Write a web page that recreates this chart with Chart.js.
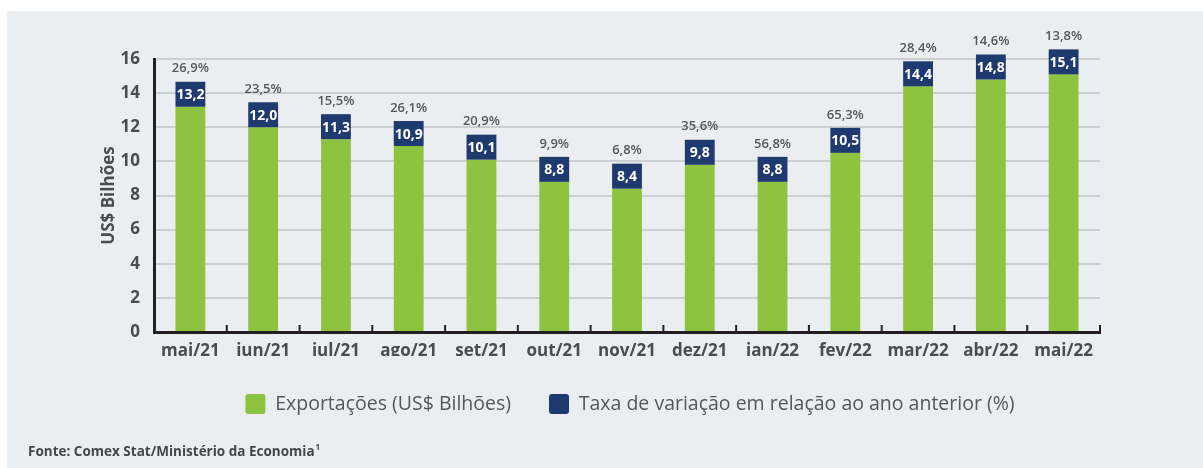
<!DOCTYPE html>
<html>
<head>
<meta charset="utf-8">
<script src="https://cdn.jsdelivr.net/npm/chart.js@4"></script>
<style>
  html, body { margin: 0; padding: 0; background: #ffffff; }
  #wrap { width: 1203px; height: 468px; }
</style>
</head>
<body>
<div id="wrap"><canvas id="exportChart"></canvas></div>
<script>
// Dados
const meses = ["mai/21", "jun/21", "jul/21", "ago/21", "set/21", "out/21", "nov/21", "dez/21", "jan/22", "fev/22", "mar/22", "abr/22", "mai/22"];
const exportacoes = [13.2, 12.0, 11.3, 10.9, 10.1, 8.8, 8.4, 9.8, 8.8, 10.5, 14.4, 14.8, 15.1];
const taxaVariacao = [26.9, 23.5, 15.5, 26.1, 20.9, 9.9, 6.8, 35.6, 56.8, 65.3, 28.4, 14.6, 13.8];
const yTicks = [0, 2, 4, 6, 8, 10, 12, 14, 16];

const verde = "#8dc33f";
const azul = "#1f3a6f";
const cinzaTexto = "#555759";
const fonte = "'Open Sans', 'DejaVu Sans', sans-serif";

const fmt = (v) => v.toFixed(1).replace(".", ",");

// fundo cinza + rodapé
const fundo = {
  id: "fundo",
  beforeDraw(chart) {
    const ctx = chart.ctx;
    ctx.save();
    ctx.fillStyle = "#ffffff";
    ctx.fillRect(0, 0, chart.width, chart.height);
    ctx.fillStyle = "#ebeef0";
    ctx.fillRect(7, 11, chart.width - 7, chart.height - 11);
    ctx.restore();
  },
  afterLayout(chart) {
    // centraliza a legenda como no original
    chart.legend.left += 80;
    chart.legend.right += 80;
  },
  afterDraw(chart) {
    const ctx = chart.ctx;
    ctx.save();
    ctx.fillStyle = "#444648";
    ctx.font = "700 13.5px " + fonte;
    ctx.textBaseline = "middle";
    ctx.fillText("Fonte: Comex Stat/Ministério da Economia", 28, 452);
    const w = ctx.measureText("Fonte: Comex Stat/Ministério da Economia").width;
    ctx.font = "700 8px " + fonte;
    ctx.fillText("1", 28 + w + 1, 448);
    ctx.restore();
  }
};

// caixas azuis com valor + taxa em %
const rotulos = {
  id: "rotulos",
  afterDatasetsDraw(chart) {
    const ctx = chart.ctx;
    const meta = chart.getDatasetMeta(0);
    const xs = chart.scales.x;
    const bottom = chart.chartArea.bottom;
    ctx.save();

    // marcas do eixo x (para cima)
    const meio = (xs.getPixelForValue(1) - xs.getPixelForValue(0)) / 2;
    ctx.strokeStyle = "#231f20";
    ctx.lineWidth = 2;
    for (let i = 0; i < meses.length; i++) {
      const bx = xs.getPixelForValue(i) + meio;
      ctx.beginPath();
      ctx.moveTo(bx, bottom);
      ctx.lineTo(bx, bottom - 7);
      ctx.stroke();
    }

    meta.data.forEach((bar, i) => {
      const w = bar.width;
      const h = 25;
      ctx.fillStyle = azul;
      ctx.fillRect(bar.x - w / 2, bar.y - h, w, h);
      ctx.fillStyle = "#ffffff";
      ctx.font = "700 14px " + fonte;
      ctx.textAlign = "center";
      ctx.textBaseline = "middle";
      ctx.fillText(fmt(exportacoes[i]), bar.x, bar.y - h / 2 + 1);
      ctx.fillStyle = cinzaTexto;
      ctx.font = "600 13px " + fonte;
      ctx.fillText(fmt(taxaVariacao[i]) + "%", bar.x, bar.y - h - 13);
    });
    ctx.restore();
  }
};

const ctx = document.getElementById("exportChart").getContext("2d");

new Chart(ctx, {
  type: "bar",
  data: {
    labels: meses,
    datasets: [
      {
        label: "Exportações (US$ Bilhões)",
        data: exportacoes,
        backgroundColor: verde,
        barPercentage: 0.41,
        categoryPercentage: 1,
      },
    ],
  },
  options: {
    responsive: true,
    maintainAspectRatio: false,
    animation: false,
    layout: {
      padding: { top: 59, right: 103, bottom: 44, left: 0 },
    },
    plugins: {
      tooltip: { enabled: false },
      legend: {
        position: "bottom",
        labels: {
          boxWidth: 20,
          boxHeight: 20,
          padding: 38,
          useBorderRadius: true,
          borderRadius: 3,
          color: "#555759",
          font: { family: fonte, size: 19.5, weight: "400" },
          generateLabels: () => [
            { text: "Exportações (US$ Bilhões)", fillStyle: verde, strokeStyle: verde, lineWidth: 0, borderRadius: 3, fontColor: "#555759" },
            { text: "Taxa de variação em relação ao ano anterior (%)", fillStyle: azul, strokeStyle: azul, lineWidth: 0, borderRadius: 3, fontColor: "#555759" },
          ],
        },
      },
    },
    scales: {
      x: {
        grid: { display: false, drawTicks: false },
        border: { color: "#231f20", width: 3 },
        ticks: {
          color: "#4a4c4e",
          padding: 9,
          font: { family: fonte, size: 17, weight: "700" },
        },
        afterFit: (scale) => {
          scale.height = 24;
        },
      },
      y: {
        min: 0,
        max: 16,
        afterBuildTicks: (scale) => {
          scale.ticks = yTicks.map((v) => ({ value: v }));
        },
        grid: { color: "#cdd0d2", lineWidth: 2, drawTicks: false },
        border: { color: "#231f20", width: 3 },
        ticks: {
          color: "#4a4c4e",
          padding: 14,
          font: { family: fonte, size: 17, weight: "700" },
        },
        title: {
          display: true,
          text: "US$ Bilhões",
          color: "#4a4c4e",
          font: { family: fonte, size: 17, weight: "700" },
          padding: { top: 99, bottom: 0 },
        },
        afterFit: (scale) => {
          scale.width = 154;
        },
      },
    },
  },
  plugins: [fundo, rotulos],
});
</script>
</body>
</html>
